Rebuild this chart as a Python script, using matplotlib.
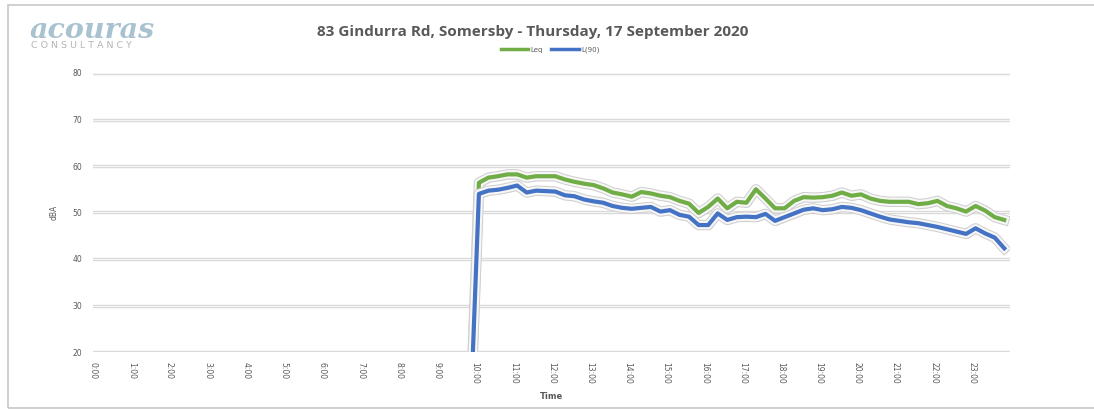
import numpy as np
import matplotlib
matplotlib.use("Agg")
import matplotlib.pyplot as plt
import matplotlib.patheffects as pe
from matplotlib.patches import Rectangle

# logged noise levels, 15 minute intervals (hours of the day)
start_hr = 9.85
leq = [0.0,
       56.4, 57.5, 57.8, 58.2, 58.2, 57.5, 57.8, 57.8, 57.8, 57.1,
       56.6, 56.2, 55.9, 55.2, 54.3, 53.9, 53.4, 54.4, 54.1, 53.6,
       53.3, 52.5, 51.9, 49.9, 51.2, 53.0, 50.9, 52.3, 52.1, 55.0,
       53.0, 50.9, 50.9, 52.5, 53.3, 53.2, 53.3, 53.6, 54.3, 53.6,
       53.9, 53.0, 52.5, 52.3, 52.3, 52.3, 51.8, 52.0, 52.5, 51.4,
       50.9, 50.2, 51.4, 50.4, 49.0, 48.4]
l90 = [0.0,
       54.0, 54.7, 54.9, 55.3, 55.8, 54.3, 54.7, 54.6, 54.5, 53.7,
       53.5, 52.8, 52.4, 52.1, 51.4, 51.0, 50.8, 51.0, 51.2, 50.2,
       50.5, 49.5, 49.1, 47.3, 47.3, 49.8, 48.4, 49.0, 49.1, 49.0,
       49.7, 48.2, 49.0, 49.8, 50.6, 50.9, 50.5, 50.7, 51.2, 51.0,
       50.5, 49.8, 49.1, 48.5, 48.2, 47.9, 47.7, 47.3, 46.9, 46.4,
       45.9, 45.4, 46.6, 45.5, 44.6, 42.3]
hours = start_hr + 0.25 * np.arange(len(leq))

tick_hours = np.arange(0, 24)
tick_labels = ["%d:00" % h for h in tick_hours]
y_ticks = [20, 30, 40, 50, 60, 70, 80]

fig = plt.figure(figsize=(10.94, 4.09), dpi=100)
fig.patch.set_facecolor("white")

# chart border (runs off the right edge)
fig.add_artist(Rectangle((8 / 1094, 1 / 409), 1120 / 1094, 403 / 409,
                         transform=fig.transFigure, fill=False,
                         edgecolor="#c8c8c8", lw=1.2))

ax = fig.add_axes([93 / 1094, 1 - 352 / 409, 917 / 1094, 279 / 409])
ax.set_xlim(0, 24)
ax.set_ylim(20, 80)
for s in ax.spines.values():
    s.set_visible(False)

# gridlines drawn as soft double lines
grid_fx = [pe.Stroke(linewidth=2.4, foreground="#d4d4d4"),
           pe.Stroke(linewidth=1.0, foreground="#f5f5f5")]
for yv in y_ticks:
    ax.axhline(yv, color="#f5f5f5", lw=1, path_effects=grid_fx, zorder=1)

glow = lambda c: [pe.SimpleLineShadow(offset=(0.8, -1.2), shadow_color="#7f7f7f", alpha=0.5, linewidth=4.5),
                  pe.Stroke(linewidth=7.5, foreground="#d0d0d0"),
                  pe.Stroke(linewidth=6.0, foreground="#f7f7f7"),
                  pe.Stroke(linewidth=3.0, foreground=c)]
ax.plot(hours, leq, color="#70ad47", lw=3.0, label="Leq",
        path_effects=glow("#70ad47"), zorder=3)
ax.plot(hours, l90, color="#4472c4", lw=3.0, label="L(90)",
        path_effects=glow("#4472c4"), zorder=4)

ax.set_xticks(tick_hours)
ax.set_xticklabels(tick_labels, rotation=-90, fontsize=5.5, color="#595959")
ax.set_yticks(y_ticks)
ax.set_yticklabels([str(v) for v in y_ticks], fontsize=5.5, color="#595959")
ax.tick_params(length=0, pad=8)
ax.tick_params(axis="x", pad=7)

ax.set_ylabel("dBA", fontsize=5.5, color="#595959", labelpad=10)
ax.set_xlabel("Time", fontsize=6, color="#595959", fontweight="bold", labelpad=6)

fig.text(533 / 1094, 1 - 32 / 409, "83 Gindurra Rd, Somersby - Thursday, 17 September 2020",
         ha="center", va="center", fontsize=11, fontweight="bold", color="#595959",
         family="Open Sans")

leg = fig.legend(loc="center", bbox_to_anchor=(550 / 1094, 1 - 50 / 409), ncol=2,
                 frameon=False, fontsize=5, handlelength=4, handletextpad=0.3,
                 columnspacing=1.2)
for t in leg.get_texts():
    t.set_color("#595959")
for h in leg.legend_handles:
    h.set_path_effects([])
    h.set_linewidth(2.5)

# company logo
fig.text(30 / 1094, 1 - 30 / 409, "acouras", fontsize=20.5, fontstyle="italic",
         fontweight="bold", family="DejaVu Serif", color="#a9c2d0", va="center")
fig.text(31 / 1094, 1 - 46 / 409, "C O N S U L T A N C Y", fontsize=6.8,
         color="#b5b5b5", va="center", family="DejaVu Sans")

fig.savefig("out.png", dpi=100, facecolor="white")
